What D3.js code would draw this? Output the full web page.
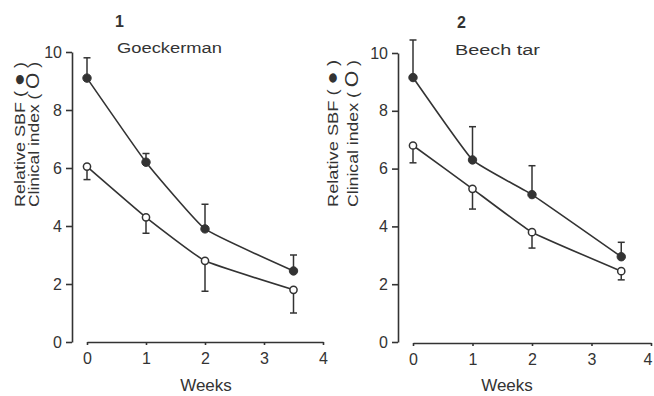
<!DOCTYPE html>
<html>
<head>
<meta charset="utf-8">
<script src="https://cdn.jsdelivr.net/npm/d3@7"></script>
<style>
  html, body { margin: 0; padding: 0; background: #fff; }
  svg { display: block; }
  text { font-family: "Liberation Sans", Arial, Helvetica, sans-serif; fill: #333; }
</style>
</head>
<body>
<svg id="chart" width="654" height="396"></svg>
<script>
// ---- data ----
const weeks = [0, 1, 2, 3.5];
const xTicks = [0, 1, 2, 3, 4];
const yTicks = [0, 2, 4, 6, 8, 10];
const panelNumbers = ["1", "2"];
const panelTitles = ["Goeckerman", "Beech tar"];
const yLabel1 = ["Relative SBF ( ", "\u25CF", " )"];
const yLabel2 = ["Clinical index ( ", "O", " )"];
const xLabel = "Weeks";

const sbf1 = [9.1, 6.2, 3.9, 2.45];
const sbf1Upper = [9.8, 6.5, 4.75, 3.0];
const clin1 = [6.05, 4.3, 2.8, 1.8];
const clin1Lower = [5.6, 3.75, 1.75, 1.0];

const sbf2 = [9.15, 6.3, 5.1, 2.95];
const sbf2Upper = [10.45, 7.45, 6.1, 3.45];
const clin2 = [6.8, 5.3, 3.8, 2.45];
const clin2Lower = [6.2, 4.6, 3.25, 2.15];

// ---- layout ----
const ink = "#333";
const svg = d3.select("#chart");

const panels = [
  { num: panelNumbers[0], title: panelTitles[0], sbf: sbf1, sbfU: sbf1Upper, clin: clin1, clinL: clin1Lower,
    yAxisX: 72, xRange: [87, 323], yRange: [342, 52], xAxisY: 342,
    numPos: [115, 27], titlePos: [117, 53, 105],
    lab1X: 25, lab2X: 39, labTop: 62, labBottom: 207, weeksX: 206, lastTickEnd: false },
  { num: panelNumbers[1], title: panelTitles[1], sbf: sbf2, sbfU: sbf2Upper, clin: clin2, clinL: clin2Lower,
    yAxisX: 398, xRange: [413, 651], yRange: [342, 53], xAxisY: 343,
    numPos: [457, 28], titlePos: [455, 55, 85],
    lab1X: 338, lab2X: 358, labTop: 60, labBottom: 207, weeksX: 507, lastTickEnd: true }
];

panels.forEach(p => {
  const x = d3.scaleLinear().domain([0, 4]).range(p.xRange);
  const y = d3.scaleLinear().domain([0, 10]).range(p.yRange);
  const g = svg.append("g");

  // y axis
  const ya = g.append("g")
    .attr("transform", `translate(${p.yAxisX},0)`)
    .call(d3.axisLeft(y).tickValues(yTicks).tickFormat(d3.format("d")).tickSize(6).tickSizeOuter(0).tickPadding(4));
  ya.selectAll("path, line").attr("stroke", ink).attr("stroke-width", 1.6);
  ya.selectAll("text").style("font-size", "16px").attr("fill", ink);

  // x axis
  const xa = g.append("g")
    .attr("transform", `translate(0,${p.xAxisY})`)
    .call(d3.axisBottom(x).tickValues(xTicks).tickFormat(d3.format("d")).tickSize(3).tickSizeOuter(0).tickPadding(8));
  xa.selectAll("path, line").attr("stroke", ink).attr("stroke-width", 1.6);
  xa.selectAll("text").style("font-size", "16px").attr("fill", ink);
  if (p.lastTickEnd) {
    xa.selectAll(".tick").filter(d => d === 4).select("text")
      .attr("text-anchor", "end").attr("dx", "0.05em");
  }

  // x label
  g.append("text").attr("x", p.weeksX).attr("y", 391).attr("text-anchor", "middle")
    .style("font-size", "17px").text(xLabel);

  // panel number and title
  g.append("text").attr("x", p.numPos[0]).attr("y", p.numPos[1])
    .style("font-size", "16px").style("font-weight", "bold").text(p.num);
  g.append("text").attr("x", p.titlePos[0]).attr("y", p.titlePos[1])
    .attr("textLength", p.titlePos[2]).attr("lengthAdjust", "spacingAndGlyphs")
    .style("font-size", "14px").text(p.title);

  // y label (two rotated lines)
  const labLen = p.labBottom - p.labTop;
  [[yLabel1, p.lab1X], [yLabel2, p.lab2X]].forEach(([t, bx]) => {
    const tx = g.append("text")
      .attr("transform", `translate(${bx},${p.labBottom}) rotate(-90)`)
      .attr("x", 0).attr("y", 0)
      .attr("textLength", labLen).attr("lengthAdjust", "spacingAndGlyphs")
      .style("font-size", "15px");
    tx.append("tspan").text(t[0]);
    tx.append("tspan").style("font-size", "18px").text(t[1]);
    tx.append("tspan").text(t[2]);
  });

  const line = d3.line().x((d, i) => x(weeks[i])).y(d => y(d)).curve(d3.curveCardinal.tension(0.65));

  // error bars
  const cap = 3.5;
  const drawErr = (vals, ends) => {
    vals.forEach((v, i) => {
      const cx = x(weeks[i]);
      g.append("line").attr("x1", cx).attr("x2", cx).attr("y1", y(v)).attr("y2", y(ends[i]))
        .attr("stroke", ink).attr("stroke-width", 1.5);
      g.append("line").attr("x1", cx - cap).attr("x2", cx + cap).attr("y1", y(ends[i])).attr("y2", y(ends[i]))
        .attr("stroke", ink).attr("stroke-width", 1.5);
    });
  };
  drawErr(p.sbf, p.sbfU);
  drawErr(p.clin, p.clinL);

  // lines
  g.append("path").datum(p.sbf).attr("d", line).attr("fill", "none").attr("stroke", ink).attr("stroke-width", 1.6);
  g.append("path").datum(p.clin).attr("d", line).attr("fill", "none").attr("stroke", ink).attr("stroke-width", 1.6);

  // markers
  g.selectAll(null).data(p.sbf).enter().append("circle")
    .attr("cx", (d, i) => x(weeks[i])).attr("cy", d => y(d)).attr("r", 4.2)
    .attr("fill", ink).attr("stroke", ink).attr("stroke-width", 1);
  g.selectAll(null).data(p.clin).enter().append("circle")
    .attr("cx", (d, i) => x(weeks[i])).attr("cy", d => y(d)).attr("r", 3.6)
    .attr("fill", "#fff").attr("stroke", ink).attr("stroke-width", 1.5);
});
</script>
</body>
</html>
